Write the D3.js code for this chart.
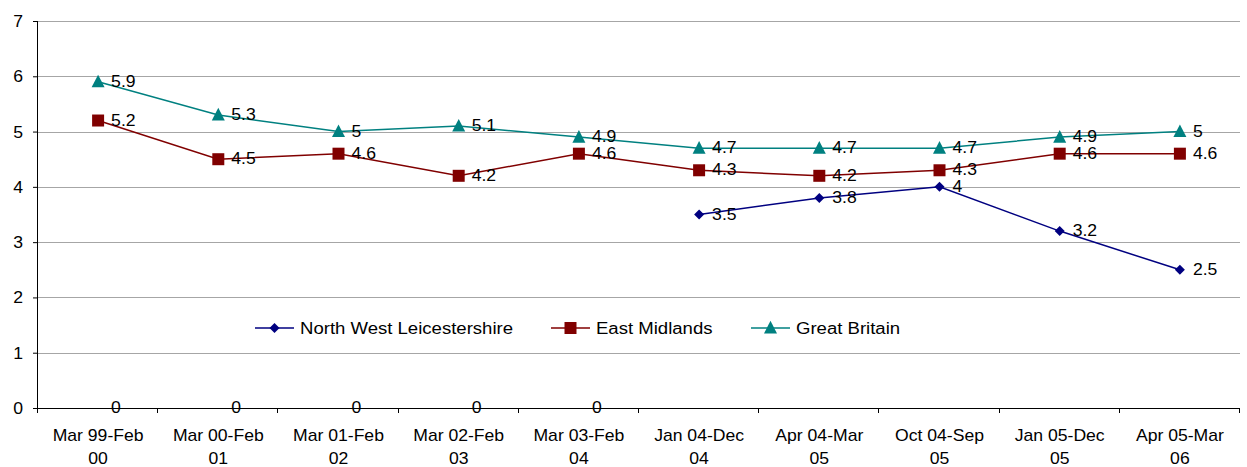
<!DOCTYPE html>
<html>
<head>
<meta charset="utf-8">
<script src="https://cdn.jsdelivr.net/npm/d3@7"></script>
<style>
  html, body { margin: 0; padding: 0; background: #fff; }
  svg { display: block; font-family: "Liberation Sans", Arial, sans-serif; }
</style>
</head>
<body>
<svg id="chart" width="1247" height="467"></svg>
<script>
// Claimant-rate style comparison across periods
const categories = [
  ["Mar 99-Feb", "00"], ["Mar 00-Feb", "01"], ["Mar 01-Feb", "02"], ["Mar 02-Feb", "03"],
  ["Mar 03-Feb", "04"], ["Jan 04-Dec", "04"], ["Apr 04-Mar", "05"], ["Oct 04-Sep", "05"],
  ["Jan 05-Dec", "05"], ["Apr 05-Mar", "06"]
];
const northWestLeics = [0, 0, 0, 0, 0, 3.5, 3.8, 4, 3.2, 2.5];
const eastMidlands   = [5.2, 4.5, 4.6, 4.2, 4.6, 4.3, 4.2, 4.3, 4.6, 4.6];
const greatBritain   = [5.9, 5.3, 5, 5.1, 4.9, 4.7, 4.7, 4.7, 4.9, 5];
const yTicks = [0, 1, 2, 3, 4, 5, 6, 7];

const series = [
  { name: "North West Leicestershire", values: northWestLeics, color: "#000080", marker: "diamond", hideZero: true },
  { name: "East Midlands", values: eastMidlands, color: "#800000", marker: "square" },
  { name: "Great Britain", values: greatBritain, color: "#008080", marker: "triangle" }
];

const svg = d3.select("#chart");
const plotLeft = 38, plotRight = 1240, plotTop = 21, plotBottom = 408;
const FONT = 16, STRETCH = 1.1;

const x = d3.scaleBand().domain(d3.range(categories.length)).range([plotLeft, plotRight]).padding(0);
const y = d3.scaleLinear().domain([0, 7]).range([plotBottom, plotTop]);
const cx = i => x(i) + x.bandwidth() / 2;

// Text placed at (tx, ty) with a slightly wide glyph proportion
function placeText(sel, tx, ty, stretch = STRETCH) {
  return sel.attr("x", 0).attr("y", 0)
    .attr("transform", (d, i) => `translate(${tx(d, i)},${ty(d, i)}) scale(${stretch},1)`)
    .attr("font-size", FONT).attr("fill", "#000");
}

// Horizontal gridlines
svg.append("g")
  .selectAll("line")
  .data(yTicks.filter(t => t > 0))
  .join("line")
  .attr("x1", plotLeft).attr("x2", plotRight)
  .attr("y1", d => Math.round(y(d)) + 0.5).attr("y2", d => Math.round(y(d)) + 0.5)
  .attr("stroke", "#a6a6a6").attr("stroke-width", 1);

// Y axis
const yAxis = svg.append("g")
  .attr("transform", `translate(${plotLeft},0)`)
  .call(d3.axisLeft(y).tickValues(yTicks).tickSize(5).tickFormat(d3.format("d")));
yAxis.select(".domain").attr("stroke", "#000").attr("d", `M-0.5,${plotTop}V${plotBottom}`);
yAxis.selectAll(".tick line").attr("stroke", "#000");
yAxis.selectAll(".tick text").remove();
placeText(
  svg.append("g").selectAll("text").data(yTicks).join("text").attr("text-anchor", "end").text(d => d),
  () => plotLeft - 15, d => y(d) + 6
);

// X axis with ticks on category boundaries
const xg = svg.append("g");
xg.append("line").attr("x1", plotLeft - 5).attr("x2", plotRight)
  .attr("y1", plotBottom + 0.5).attr("y2", plotBottom + 0.5).attr("stroke", "#000");
xg.selectAll("line.tk")
  .data(d3.range(categories.length + 1))
  .join("line").attr("class", "tk")
  .attr("x1", i => Math.round(plotLeft + i * x.bandwidth()) - 0.5)
  .attr("x2", i => Math.round(plotLeft + i * x.bandwidth()) - 0.5)
  .attr("y1", plotBottom).attr("y2", plotBottom + 5).attr("stroke", "#000");
placeText(
  xg.selectAll("text.cat1").data(categories).join("text").attr("class", "cat1")
    .attr("text-anchor", "middle").text(d => d[0]),
  (d, i) => cx(i), () => plotBottom + 33
);
placeText(
  xg.selectAll("text.cat2").data(categories).join("text").attr("class", "cat2")
    .attr("text-anchor", "middle").text(d => d[1]),
  (d, i) => cx(i), () => plotBottom + 55.5
);

// Marker path generators
function markerPath(type, s) {
  if (type === "diamond") return `M0,${-s}L${s},0L0,${s}L${-s},0Z`;
  if (type === "square") return `M${-s},${-s}H${s}V${s}H${-s}Z`;
  return `M0,${-s * 1.1}L${s},${s * 0.85}L${-s},${s * 0.85}Z`;
}
const markerSize = { diamond: 5, square: 6, triangle: 6.5 };

const line = d3.line().x(d => cx(d.i)).y(d => y(d.v));

series.forEach(s => {
  const pts = s.values.map((v, i) => ({ v, i }));
  const shown = s.hideZero ? pts.filter(p => p.v !== 0) : pts;
  svg.append("path")
    .datum(shown)
    .attr("d", line)
    .attr("fill", "none")
    .attr("stroke", s.color)
    .attr("stroke-width", 1.5);
  svg.append("g").selectAll("path")
    .data(shown)
    .join("path")
    .attr("transform", d => `translate(${cx(d.i)},${y(d.v)})`)
    .attr("d", markerPath(s.marker, markerSize[s.marker]))
    .attr("fill", s.color);
  // Value labels, right of each point
  placeText(
    svg.append("g").selectAll("text").data(pts).join("text").text(d => d.v),
    d => cx(d.i) + 13, d => y(d.v) + 5
  );
});

// Legend
const legend = svg.append("g");
const legendItems = [
  { s: series[0], x0: 255 },
  { s: series[1], x0: 551 },
  { s: series[2], x0: 751 }
];
legendItems.forEach(({ s, x0 }) => {
  const ly = 328;
  legend.append("line").attr("x1", x0).attr("x2", x0 + 39).attr("y1", ly).attr("y2", ly)
    .attr("stroke", s.color).attr("stroke-width", 1.5);
  legend.append("path").attr("transform", `translate(${x0 + 19.5},${ly})`)
    .attr("d", markerPath(s.marker, markerSize[s.marker])).attr("fill", s.color);
  placeText(legend.append("text").text(s.name), () => x0 + 45, () => ly + 6, 1.16);
});
</script>
</body>
</html>
